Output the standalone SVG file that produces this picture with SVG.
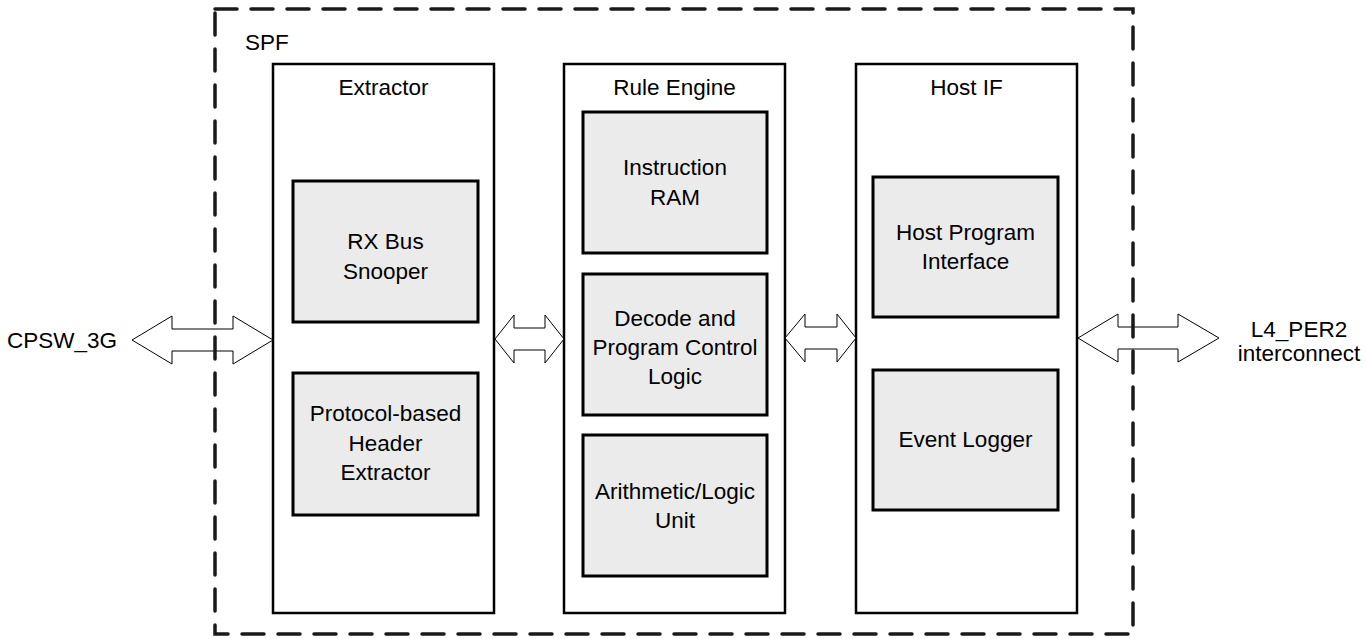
<svg xmlns="http://www.w3.org/2000/svg" width="1366" height="639" viewBox="0 0 1366 639">
<style>
text{font-family:"Liberation Sans",Arial,sans-serif;font-size:22.5px;fill:#000}
.c{text-anchor:middle}
.outer{fill:#fff;stroke:#000;stroke-width:2.5}
.inner{fill:#ebebeb;stroke:#000;stroke-width:3}
.arrow{fill:#fff;stroke:#000;stroke-width:1}
.border{fill:none;stroke:#1a1a1a;stroke-width:3.5;stroke-dasharray:22 14;stroke-linecap:round}
</style>
<rect width="1366" height="639" fill="#fff"/>
<g id="extractor">
<rect class="outer" x="273" y="64" width="221" height="549"/>
<text class="c" x="383.5" y="95">Extractor</text>
</g>
<g id="rule-engine">
<rect class="outer" x="564" y="64" width="221" height="549"/>
<text class="c" x="674.5" y="95">Rule Engine</text>
</g>
<g id="host-if">
<rect class="outer" x="856" y="64" width="221" height="549"/>
<text class="c" x="966.5" y="95">Host IF</text>
</g>
<g id="rx-bus-snooper">
<rect class="inner" x="293" y="181" width="185" height="141"/>
<text class="c" x="385.5" y="249">RX Bus</text>
<text class="c" x="385.5" y="279">Snooper</text>
</g>
<g id="protocol-header-extractor">
<rect class="inner" x="293" y="373" width="185" height="142"/>
<text class="c" x="385.5" y="421">Protocol-based</text>
<text class="c" x="385.5" y="451">Header</text>
<text class="c" x="385.5" y="480">Extractor</text>
</g>
<g id="instruction-ram">
<rect class="inner" x="583" y="112" width="184" height="141"/>
<text class="c" x="675" y="175">Instruction</text>
<text class="c" x="675" y="205">RAM</text>
</g>
<g id="decode-control">
<rect class="inner" x="583" y="274" width="184" height="141"/>
<text class="c" x="675" y="326">Decode and</text>
<text class="c" x="675" y="355">Program Control</text>
<text class="c" x="675" y="384">Logic</text>
</g>
<g id="alu">
<rect class="inner" x="583" y="435" width="184" height="141"/>
<text class="c" x="675" y="499">Arithmetic/Logic</text>
<text class="c" x="675" y="528">Unit</text>
</g>
<g id="host-program-interface">
<rect class="inner" x="873" y="177" width="185" height="140"/>
<text class="c" x="965.5" y="240">Host Program</text>
<text class="c" x="965.5" y="269">Interface</text>
</g>
<g id="event-logger">
<rect class="inner" x="873" y="370" width="185" height="140"/>
<text class="c" x="965.5" y="447">Event Logger</text>
</g>
<g id="cpsw">
<text x="117" y="348" text-anchor="end">CPSW_3G</text>
</g>
<g id="l4-per2">
<text class="c" x="1299" y="337">L4_PER2</text>
<text class="c" x="1299" y="361">interconnect</text>
</g>
<g id="connectors">
<polygon class="arrow" points="132,340 172,316 172,329 233,329 233,316 273,340 233,364 233,351 172,351 172,364"/>
<polygon class="arrow" points="495,339 514,315 514,328 545,328 545,315 564,339 545,363 545,350 514,350 514,363"/>
<polygon class="arrow" points="785,338 805,314 805,327 837,327 837,314 856,338 837,362 837,349 805,349 805,362"/>
<polygon class="arrow" points="1078,338 1118,314 1118,327 1178,327 1178,314 1219,338 1178,362 1178,349 1118,349 1118,362"/>
</g>
<g id="spf">
<rect class="border" x="215" y="9" width="918" height="625"/>
<text x="245" y="50">SPF</text>
</g>
</svg>
